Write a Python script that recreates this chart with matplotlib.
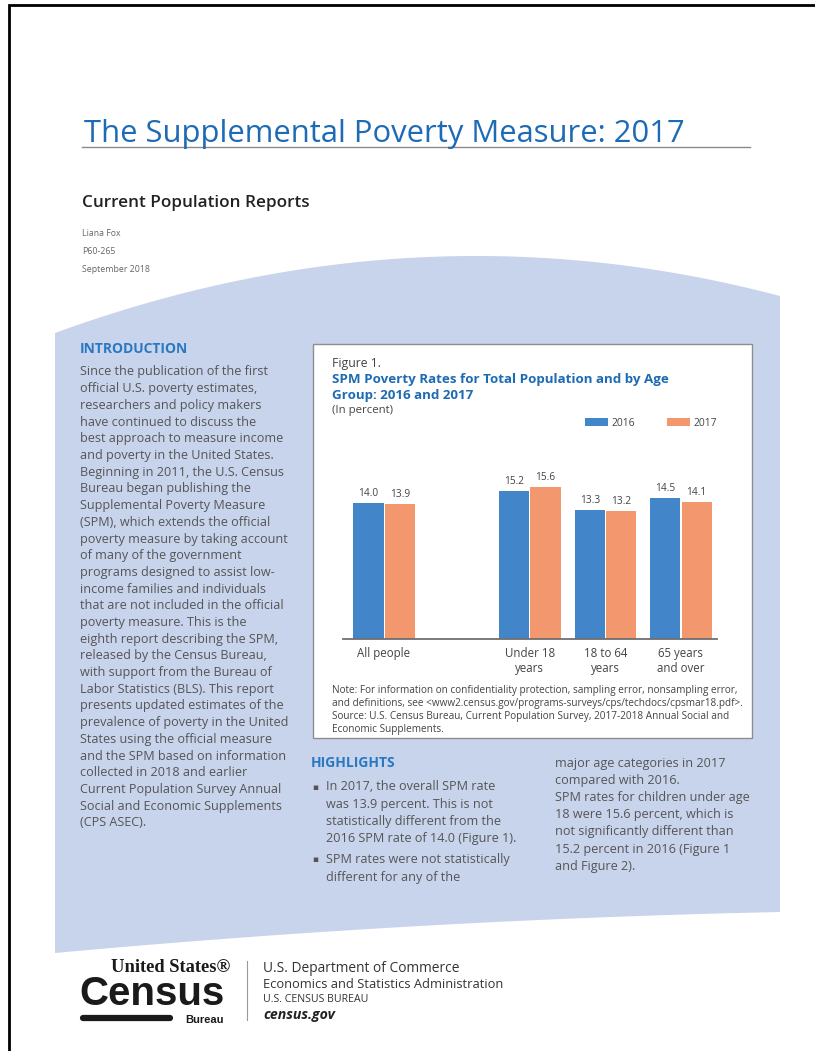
import numpy as np
import matplotlib.pyplot as plt
from matplotlib.patches import Rectangle, Polygon

plt.rcParams['font.family'] = ['Open Sans', 'DejaVu Sans']

# chart data
categories = ['All people', 'Under 18\nyears', '18 to 64\nyears', '65 years\nand over']
years = ['2016', '2017']
rate_2016 = [14.0, 15.2, 13.3, 14.5]
rate_2017 = [13.9, 15.6, 13.2, 14.1]

intro_lines = [
    'Since the publication of the first',
    'official U.S. poverty estimates,',
    'researchers and policy makers',
    'have continued to discuss the',
    'best approach to measure income',
    'and poverty in the United States.',
    'Beginning in 2011, the U.S. Census',
    'Bureau began publishing the',
    'Supplemental Poverty Measure',
    '(SPM), which extends the official',
    'poverty measure by taking account',
    'of many of the government',
    'programs designed to assist low-',
    'income families and individuals',
    'that are not included in the official',
    'poverty measure. This is the',
    'eighth report describing the SPM,',
    'released by the Census Bureau,',
    'with support from the Bureau of',
    'Labor Statistics (BLS). This report',
    'presents updated estimates of the',
    'prevalence of poverty in the United',
    'States using the official measure',
    'and the SPM based on information',
    'collected in 2018 and earlier',
    'Current Population Survey Annual',
    'Social and Economic Supplements',
    '(CPS ASEC).',
]
bullet1 = ['In 2017, the overall SPM rate', 'was 13.9 percent. This is not',
           'statistically different from the', '2016 SPM rate of 14.0 (Figure 1).']
bullet2 = ['SPM rates were not statistically', 'different for any of the']
right_col = ['major age categories in 2017', 'compared with 2016.',
             'SPM rates for children under age', '18 were 15.6 percent, which is',
             'not significantly different than', '15.2 percent in 2016 (Figure 1',
             'and Figure 2).']
note_lines = [
    'Note: For information on confidentiality protection, sampling error, nonsampling error,',
    'and definitions, see <www2.census.gov/programs-surveys/cps/techdocs/cpsmar18.pdf>.',
    'Source: U.S. Census Bureau, Current Population Survey, 2017-2018 Annual Social and',
    'Economic Supplements.',
]

W, H = 815, 1051
blue_title = '#1d6bb4'
blue_head = '#2a78c0'
body_gray = '#555555'
bg_blue = '#c8d4ec'
bar_blue = '#4285c8'
bar_orange = '#f3976f'
narrow = ['Liberation Sans', 'DejaVu Sans']

fig = plt.figure(figsize=(W / 100, H / 100), dpi=100)
page = fig.add_axes([0, 0, 1, 1])
page.set_xlim(0, W)
page.set_ylim(H, 0)
page.axis('off')

# page border
page.plot([9, 9, W], [H, 5, 5], color='black', lw=2, solid_joinstyle='miter')

# blue background shape
xs = np.linspace(55, 780, 200)
top = np.polyval(np.polyfit([55, 470, 780], [333, 256, 296], 2), xs)
bottom = np.polyval(np.polyfit([55, 420, 780], [953, 926, 912], 2), xs)
pts = np.vstack([np.column_stack([xs, top]), np.column_stack([xs[::-1], bottom[::-1]])])
page.add_patch(Polygon(pts, closed=True, facecolor=bg_blue, edgecolor='none'))

# header
page.text(84, 134, 'The Supplemental Poverty Measure: 2017', fontsize=22.3,
          color=blue_title, va='center', ha='left')
page.plot([82, 750], [147, 147], color='#8a8a8a', lw=1)
page.text(82, 203, 'Current Population Reports', fontsize=12.3, color='#222222',
          va='center', fontweight='semibold')
for y, s in zip([234, 252, 270], ['Liana Fox', 'P60-265', 'September 2018']):
    page.text(82, y, s, fontsize=6.3, color='#666666', va='center')

# introduction column
page.text(80, 349, 'INTRODUCTION', fontsize=10, color=blue_head, fontweight='bold', va='center')
for i, s in enumerate(intro_lines):
    page.text(80, 372 + i * 16.7, s, fontsize=9.1, color=body_gray, va='center')

# highlights
page.text(311, 763, 'HIGHLIGHTS', fontsize=10, color=blue_head, fontweight='bold', va='center')
for i, s in enumerate(bullet1):
    page.text(326, 787 + i * 17.3, s, fontsize=9.1, color=body_gray, va='center')
for i, s in enumerate(bullet2):
    page.text(326, 860 + i * 17.3, s, fontsize=9.1, color=body_gray, va='center')
for y in [787, 860]:
    page.text(315, y, '\u25aa', fontsize=6.5, color=body_gray, va='center', ha='center',
              family='DejaVu Sans')
for i, s in enumerate(right_col):
    page.text(555, 763 + i * 17.2, s, fontsize=9.1, color=body_gray, va='center')

# figure box
page.add_patch(Rectangle((313, 344), 439, 394, facecolor='white', edgecolor='#8e8e8e', lw=1))
page.text(332, 364, 'Figure 1.', fontsize=8.8, color='#444444', va='center')
page.text(332, 380, 'SPM Poverty Rates for Total Population and by Age', fontsize=9.6,
          color=blue_title, fontweight='bold', va='center')
page.text(332, 396, 'Group: 2016 and 2017', fontsize=9.6, color=blue_title,
          fontweight='bold', va='center')
page.text(332, 411, '(In percent)', fontsize=8.2, color='#444444', va='center')
for i, s in enumerate(note_lines):
    page.text(332, 690 + i * 13.3, s, fontsize=7.2, color='#444444', va='center')

# bar chart
ax = fig.add_axes([343 / W, 1 - 639 / H, (717 - 343) / W, (639 - 464) / H])
pos = np.array([0, 1.93, 2.93, 3.93])
bw = 0.4
b1 = ax.bar(pos - 0.205, rate_2016, bw, color=bar_blue, label=years[0])
b2 = ax.bar(pos + 0.21, rate_2017, bw, color=bar_orange, label=years[1])
ax.bar_label(b1, fmt='%.1f', padding=3, fontsize=7.3, color='#444444')
ax.bar_label(b2, fmt='%.1f', padding=3, fontsize=7.3, color='#444444')
ax.set_xlim(-0.543, 4.41)
ax.set_ylim(0, 18)
ax.set_xticks(pos, categories, fontsize=8.3, color='#444444')
ax.tick_params(axis='x', length=0, pad=6)
ax.set_yticks([])
for s in ['top', 'left', 'right']:
    ax.spines[s].set_visible(False)
ax.spines['bottom'].set_color('#6f6f6f')
ax.spines['bottom'].set_linewidth(1.3)
ax.patch.set_alpha(0)
ax.legend(handles=[b1, b2], loc='center left', bbox_to_anchor=(585, 423),
          bbox_transform=page.transData, ncol=2, frameon=False, fontsize=7.4,
          handlelength=2.2, handleheight=0.9, handletextpad=0.4,
          columnspacing=3.1, borderpad=0, borderaxespad=0, labelcolor='#444444')

# footer
page.text(230, 968, 'United States\u00ae', fontsize=13.3, fontweight='bold', ha='right',
          va='center', family=['Liberation Serif', 'DejaVu Serif'], color='#1a1a1a')
page.text(79, 1005, 'Census', fontsize=29, fontweight='bold', ha='left', va='baseline',
          family=narrow, color='#1a1a1a')
page.plot([83, 170], [1018, 1018], color='#1a1a1a', lw=4.5, solid_capstyle='round')
page.text(224, 1020, 'Bureau', fontsize=8, fontweight='bold', ha='right', va='center',
          family=narrow, color='#1a1a1a')
page.plot([247, 247], [961, 1020], color='#999999', lw=0.8)
page.text(263, 968, 'U.S. Department of Commerce', fontsize=9.9, color='#333333', va='center')
page.text(263, 984, 'Economics and Statistics Administration', fontsize=9.3,
          color='#333333', va='center')
page.text(263, 1000, 'U.S. CENSUS BUREAU', fontsize=7.6, color='#333333', va='center')
page.text(263, 1015, 'census.gov', fontsize=10.2, color='#222222', va='center',
          fontweight='bold', style='italic')

fig.savefig('out.png', dpi=100)
